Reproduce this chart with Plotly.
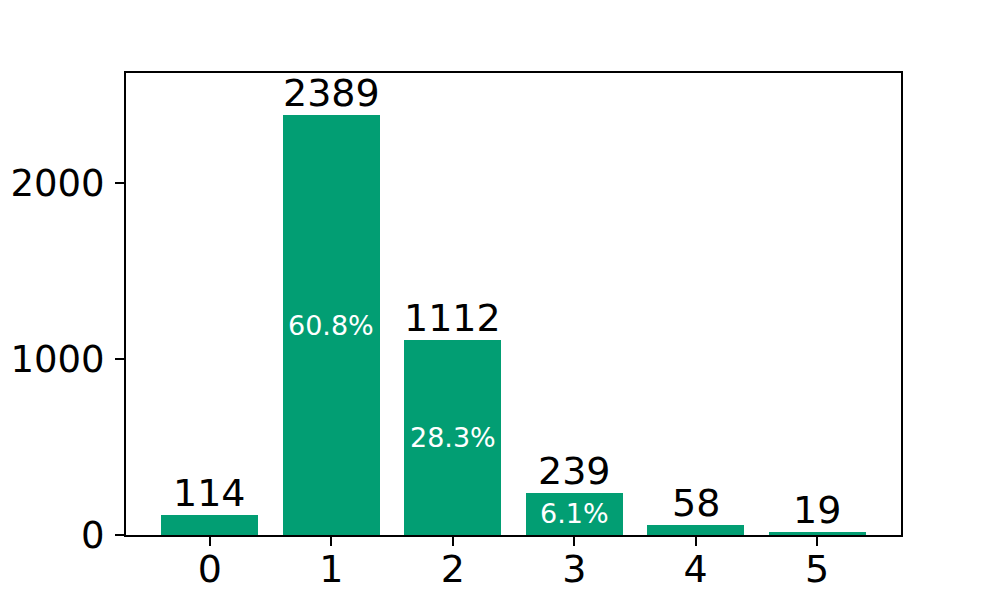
import plotly.graph_objects as go

# categories and counts
categories = [0, 1, 2, 3, 4, 5]
counts = [114, 2389, 1112, 239, 58, 19]
total = sum(counts)
shares = [c / total * 100 for c in counts]

bar_color = "#029e73"
font_family = "DejaVu Sans"

fig = go.Figure()
fig.add_trace(go.Bar(
    x=categories, y=counts, width=0.8,
    marker=dict(color=bar_color, line=dict(width=0)),
    showlegend=False, hoverinfo="skip",
))

# count above each bar
for c, v in zip(categories, counts):
    fig.add_annotation(x=c, y=v, text=str(v), showarrow=False,
                       xref="x", yref="y", yanchor="bottom", yshift=-2,
                       font=dict(family=font_family, size=38, color="black"))

# percent in the middle of the larger bars
for c, v, s in zip(categories, counts, shares):
    if s > 5:
        fig.add_annotation(x=c, y=v / 2, text=f"{s:.1f}%", showarrow=False,
                           xref="x", yref="y", yanchor="middle",
                           font=dict(family=font_family, size=27, color="white"))

fig.update_layout(
    width=1000, height=600,
    margin=dict(l=118, r=107, t=65, b=73),
    plot_bgcolor="white", paper_bgcolor="white",
    font=dict(family=font_family, size=38, color="black"),
    bargap=0,
)
fig.update_xaxes(
    range=[-0.69, 5.69], tickmode="array", tickvals=categories,
    ticks="outside", ticklen=9, tickwidth=2, tickcolor="black",
    ticklabelstandoff=-10, automargin=False,
    showline=True, linecolor="black", linewidth=2, mirror=True,
    showgrid=False, zeroline=False,
)
fig.update_yaxes(
    range=[0, 2628], tickvals=[0, 1000, 2000],
    ticks="outside", ticklen=9, tickwidth=2, tickcolor="black",
    tickfont=dict(size=37), ticklabelstandoff=3, automargin=False,
    showline=True, linecolor="black", linewidth=2, mirror=True,
    showgrid=False, zeroline=False,
)

fig.write_html("out.html")
